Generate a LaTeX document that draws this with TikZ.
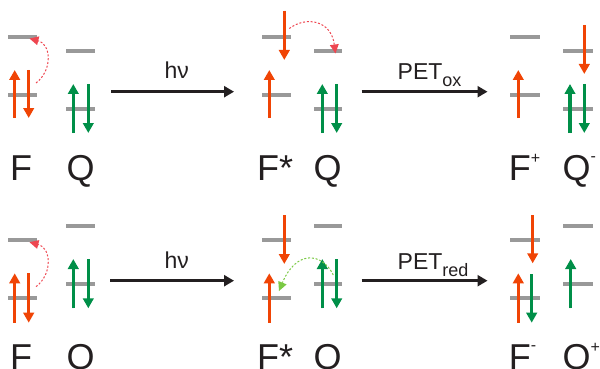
\documentclass[tikz,border=0pt]{standalone}
\usepackage{fontspec}
\setmainfont{Liberation Sans}
\usetikzlibrary{arrows.meta}

\definecolor{elecred}{RGB}{240,68,5}
\definecolor{elecgreen}{RGB}{0,143,72}
\definecolor{levgray}{RGB}{153,153,153}
\definecolor{hopred}{RGB}{238,70,80}
\definecolor{hopgreen}{RGB}{122,201,67}
\definecolor{ink}{RGB}{35,31,32}

% orbital level: horizontal bar from x=#1 to x=#2 at height #3
\newcommand\orbital[3]{\draw[orbbar] (#1,#3) -- (#2,#3);}
% electron arrow of style #1 at x=#2 from y=#3 to y=#4
\newcommand\electron[4]{\draw[#1] (#2,#3) -- (#2,#4);}

\begin{document}
\begin{tikzpicture}[x=1pt,y=-1pt,
  orbbar/.style={line width=4pt, draw=levgray},
  espin/.style={line width=3.3pt, -{Triangle[width=10.5pt,length=10pt]}},
  ered/.style={espin, draw=elecred, fill=elecred},
  egreen/.style={espin, draw=elecgreen, fill=elecgreen},
  hopr/.style={draw=hopred, line width=1pt, dash pattern=on 2pt off 1.8pt,
    -{Triangle[width=9pt,length=9pt,fill=hopred,line width=0pt]}},
  hopg/.style={draw=hopgreen, line width=1pt, dash pattern=on 2pt off 1.8pt,
    -{Triangle[width=9pt,length=9pt,fill=hopgreen,line width=0pt]}},
  react/.style={line width=3.3pt, draw=ink, -{Triangle[width=11pt,length=10pt]}},
  species/.style={inner sep=0pt, anchor=base west, text=ink,
    font=\fontsize{36}{36}\selectfont},
  rlabel/.style={inner sep=0pt, anchor=base, text=ink,
    font=\fontsize{23}{23}\selectfont},
]
\useasboundingbox (0,0) rectangle (600,369);

% ---------------- top row: oxidative PET ----------------
% F
\orbital{8}{37}{36.7}
\orbital{8}{37}{95}
\electron{ered}{14.7}{118}{70}
\electron{ered}{28.7}{70}{118}
% Q
\orbital{66}{95}{51}
\orbital{66}{95}{108.7}
\electron{egreen}{73.3}{133}{84}
\electron{egreen}{88.3}{84}{133}
% excitation hop
\coordinate (exA1) at (36,83);
\coordinate (exB1) at (29.5,38.5);
\draw[hopr] (exA1) .. controls (53,70) and (51,44) .. (exB1);

% F* and Q
\orbital{262}{290.7}{36.7}
\orbital{262}{290.7}{95}
\electron{ered}{284.3}{10.7}{60}
\electron{ered}{269.3}{118}{70}
\orbital{314}{341.7}{51}
\orbital{314}{341.7}{108.7}
\electron{egreen}{322.3}{133}{84}
\electron{egreen}{336.7}{84}{133}
\coordinate (etA1) at (289.3,28.5);
\coordinate (etB1) at (335.5,53.5);
\draw[hopr] (etA1) .. controls (306,16) and (331,20) .. (etB1);

% F+ and Q-
\orbital{510}{540}{36.7}
\orbital{510}{540}{95}
\electron{ered}{518.3}{118}{70}
\orbital{563.3}{592.7}{51}
\orbital{563.3}{592.7}{108.7}
\electron{ered}{584.3}{25}{74}
\electron{egreen}{570}{133}{84}
\electron{egreen}{584.3}{84}{133}

% labels
\node[species] (F1)  at (10,180)    {F};
\node[species] (Q1)  at (66.3,180)  {Q};
\node[species] (Fs1) at (257,180)   {F*};
\node[species] (Qs1) at (313.3,180) {Q};
\node[species] (Fp1) at (508.7,180) {F\raisebox{17pt}{\fontsize{16}{16}\selectfont +}};
\node[species] (Qm1) at (562.3,180) {Q\raisebox{19pt}{\fontsize{16}{16}\selectfont -}};

% reaction arrows
\coordinate (hvS1) at (111,91.7);
\coordinate (hvE1) at (234,91.7);
\draw[react] (hvS1) -- (hvE1);
\node[rlabel] (hv1) at (176.7,79) {hν};
\coordinate (petS1) at (361.7,91.7);
\coordinate (petE1) at (487.5,91.7);
\draw[react] (petS1) -- (petE1);
\node[rlabel, anchor=base west] (pet1) at (397.5,80)
  {PET\raisebox{-6pt}{\fontsize{18}{18}\selectfont ox}};

% ---------------- bottom row: reductive PET ----------------
% F
\orbital{8}{37}{240}
\orbital{8}{37}{297.7}
\electron{ered}{14.7}{322.7}{273.3}
\electron{ered}{28.7}{273.3}{322.7}
% Q
\orbital{66}{95}{225.7}
\orbital{66}{95}{284}
\electron{egreen}{73.3}{308.3}{259}
\electron{egreen}{88.3}{259}{308.3}
\coordinate (exA2) at (36,286.7);
\coordinate (exB2) at (29.5,242.2);
\draw[hopr] (exA2) .. controls (53,273.7) and (51,247.7) .. (exB2);

% F* and Q
\orbital{262}{290.7}{240}
\orbital{262}{290.7}{297.7}
\electron{ered}{284.3}{215}{264}
\electron{ered}{269.3}{322.7}{273.3}
\orbital{314}{341.7}{225.7}
\orbital{314}{341.7}{284}
\electron{egreen}{322.3}{308.3}{259}
\electron{egreen}{336.7}{259}{308.3}
\coordinate (etA2) at (333.3,275);
\coordinate (etB2) at (279,291);
\draw[hopg] (etA2) .. controls (322,252) and (296,250) .. (etB2);

% F- and Q+
\orbital{510}{540}{240}
\orbital{510}{540}{297.7}
\electron{ered}{532.7}{215}{263.3}
\electron{ered}{518.3}{322.7}{273.3}
\electron{egreen}{531.7}{274}{322.7}
\orbital{563.3}{592.7}{225.7}
\orbital{563.3}{592.7}{284}
\electron{egreen}{570.7}{308.3}{259}

% labels
\node[species] (F2)  at (10,369.5)    {F};
\node[species] (Q2)  at (66.3,369.5)  {Q};
\node[species] (Fs2) at (257,369.5)   {F*};
\node[species] (Qs2) at (313.3,369.5) {Q};
\node[species] (Fm2) at (508.7,369.5) {F\raisebox{19pt}{\fontsize{16}{16}\selectfont -}};
\node[species] (Qp2) at (562.3,369.5) {Q\raisebox{17pt}{\fontsize{16}{16}\selectfont +}};

% reaction arrows
\coordinate (hvS2) at (110,280.7);
\coordinate (hvE2) at (234,280.7);
\draw[react] (hvS2) -- (hvE2);
\node[rlabel] (hv2) at (176.7,268.3) {hν};
\coordinate (petS2) at (361.7,280.7);
\coordinate (petE2) at (487.5,280.7);
\draw[react] (petS2) -- (petE2);
\node[rlabel, anchor=base west] (pet2) at (397.5,269.3)
  {PET\raisebox{-7pt}{\fontsize{18}{18}\selectfont red}};
\end{tikzpicture}
\end{document}
